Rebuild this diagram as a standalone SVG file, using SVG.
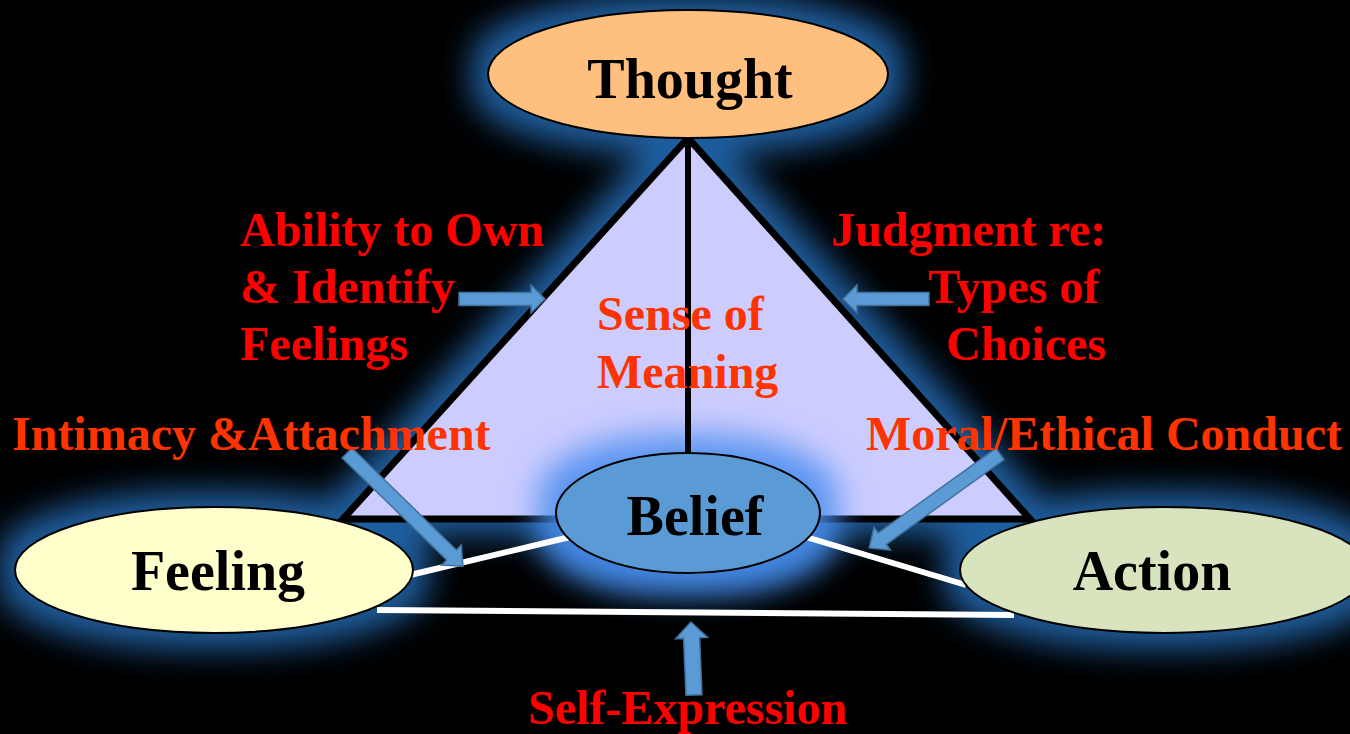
<svg xmlns="http://www.w3.org/2000/svg" width="1350" height="734" viewBox="0 0 1350 734">
  <defs>
    <filter id="outerGlow" x="-30%" y="-40%" width="160%" height="180%">
      <feMorphology in="SourceAlpha" operator="dilate" radius="16" result="grown"/>
      <feGaussianBlur in="grown" stdDeviation="16" result="soft"/>
      <feFlood flood-color="#1F5E9F"/>
      <feComposite in2="soft" operator="in"/>
    </filter>
    <filter id="beliefGlow" x="-50%" y="-80%" width="200%" height="260%">
      <feMorphology in="SourceAlpha" operator="dilate" radius="18" result="grown"/>
      <feGaussianBlur in="grown" stdDeviation="16" result="soft"/>
      <feFlood flood-color="#4A8EEE" flood-opacity="0.9"/>
      <feComposite in2="soft" operator="in"/>
    </filter>
    <style>
      .node { stroke: #000000; stroke-width: 2; }
      .label { font-family: "Liberation Serif", "Times New Roman", serif; font-weight: bold; }
      .nodeText { font-size: 56px; fill: #000000; text-anchor: middle; }
      .red { font-size: 48px; fill: #FF0000; }
      .orange { font-size: 48px; fill: #FF3300; }
      .link { stroke: #FFFFFF; stroke-width: 6; fill: none; }
      .blockArrow { fill: #5B9BD5; stroke: #41719C; stroke-width: 1.5; }
    </style>
  </defs>

  <rect width="1350" height="734" fill="#000000"/>

  <!-- soft blue halo behind the triangle and outer ellipses -->
  <g filter="url(#outerGlow)">
    <polygon points="688,138 343,519 1030,519"/>
    <ellipse cx="688" cy="74" rx="200" ry="64"/>
    <ellipse cx="214" cy="570" rx="199" ry="63"/>
    <ellipse cx="1164" cy="570" rx="204" ry="63"/>
    <ellipse cx="688" cy="513" rx="132" ry="60"/>
  </g>

  <!-- central triangle -->
  <g id="triangle">
    <polygon points="688,138 343,519 1030,519" fill="#CCCCFF" stroke="#000000" stroke-width="7" stroke-linejoin="miter"/>
  </g>

  <!-- halo of the belief ellipse, over the triangle -->
  <g filter="url(#beliefGlow)">
    <ellipse cx="688" cy="513" rx="132" ry="60"/>
  </g>

  <g id="connectors">
    <line x1="688" y1="138" x2="688" y2="455" stroke="#000000" stroke-width="6"/>
    <line class="link" x1="410" y1="575" x2="570" y2="537"/>
    <line class="link" x1="806" y1="537" x2="966" y2="585"/>
    <line class="link" x1="377" y1="610" x2="1014" y2="615"/>
  </g>

  <g id="node-thought">
    <ellipse class="node" cx="688" cy="74" rx="200" ry="64" fill="#FFBF7F"/>
    <text class="label nodeText" x="690" y="98">Thought</text>
  </g>

  <g id="node-feeling">
    <ellipse class="node" cx="214" cy="570" rx="199" ry="63" fill="#FFFFCC"/>
    <text class="label nodeText" x="218" y="590">Feeling</text>
  </g>

  <g id="node-action">
    <ellipse class="node" cx="1164" cy="570" rx="204" ry="63" fill="#D7E4BD"/>
    <text class="label nodeText" x="1152" y="590">Action</text>
  </g>

  <g id="node-belief">
    <ellipse class="node" cx="688" cy="513" rx="132" ry="60" fill="#5B9BD5"/>
    <text class="label nodeText" x="695" y="535">Belief</text>
  </g>

  <!-- block arrows pointing at the triangle -->
  <g id="arrow-ability">
    <polygon class="blockArrow" transform="translate(459,299)" points="0,-6.5 72,-6.5 72,-14 86,0 72,14 72,6.5 0,6.5"/>
  </g>
  <g id="arrow-judgment">
    <polygon class="blockArrow" transform="translate(929,299) rotate(180)" points="0,-6.5 72,-6.5 72,-14 86,0 72,14 72,6.5 0,6.5"/>
  </g>
  <g id="arrow-intimacy">
    <polygon class="blockArrow" transform="translate(347,453) rotate(44.3)" points="0,-7 146,-7 146,-14 162,0 146,14 146,7 0,7"/>
  </g>
  <g id="arrow-moral">
    <polygon class="blockArrow" transform="translate(1000,454) rotate(144.3)" points="0,-7 145,-7 145,-14 161,0 145,14 145,7 0,7"/>
  </g>
  <g id="arrow-self">
    <polygon class="blockArrow" transform="translate(694,695) rotate(-92.4)" points="0,-8 57,-8 57,-16 73,0 57,16 57,8 0,8"/>
  </g>

  <g id="label-ability" class="label red">
    <text x="240" y="246">Ability to Own</text>
    <text x="240" y="303">&amp; Identify</text>
    <text x="240" y="360">Feelings</text>
  </g>
  <g id="label-judgment" class="label red">
    <text x="831" y="246">Judgment re:</text>
    <text x="928" y="303">Types of</text>
    <text x="946" y="360">Choices</text>
  </g>
  <g id="label-meaning" class="label orange">
    <text x="597" y="330">Sense of</text>
    <text x="597" y="388">Meaning</text>
  </g>
  <g id="label-intimacy" class="label orange">
    <text x="12" y="450">Intimacy &amp;Attachment</text>
  </g>
  <g id="label-moral" class="label orange">
    <text x="866" y="450">Moral/Ethical Conduct</text>
  </g>
  <g id="label-self" class="label red">
    <text x="528" y="724">Self-Expression</text>
  </g>
</svg>
